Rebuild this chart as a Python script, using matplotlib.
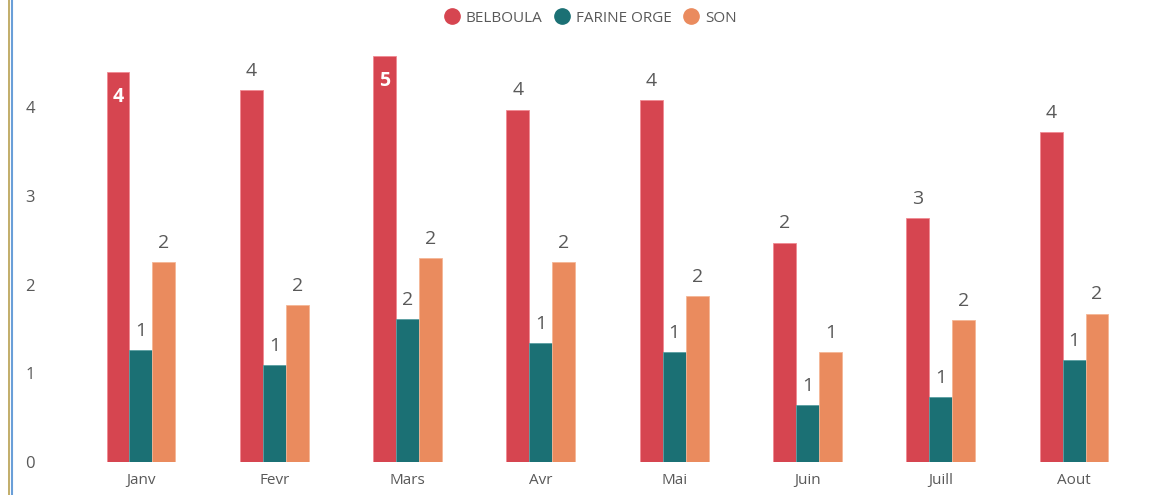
import matplotlib
matplotlib.use("Agg")
import matplotlib.pyplot as plt
import numpy as np
from matplotlib.lines import Line2D

months = ["Janv", "Fevr", "Mars", "Avr", "Mai", "Juin", "Juill", "Aout"]
belboula = [4.40, 4.19, 4.58, 3.97, 4.08, 2.47, 2.75, 3.72]
farine_orge = [1.26, 1.09, 1.61, 1.34, 1.24, 0.64, 0.73, 1.15]
son = [2.25, 1.77, 2.30, 2.25, 1.87, 1.24, 1.60, 1.67]
series_names = ["BELBOULA", "FARINE ORGE", "SON"]
yticks = [0, 1, 2, 3, 4]
inside_labels = {("BELBOULA", "Janv"), ("BELBOULA", "Mars")}

colors = ["#D64550", "#1B7074", "#EA8B5E"]
edge = ["#F08A92", "#5A9EA2", "#F4B696"]
grey = "#595959"
plt.rcParams['font.family'] = ['Open Sans', 'DejaVu Sans']

fig = plt.figure(figsize=(11.73, 4.95), dpi=100)
ax = fig.add_axes([40/1173, 33/495, 1110/1173, 422/495])

x = np.arange(len(months))
w = 0.1725
data = [belboula, farine_orge, son]
for i, (name, vals) in enumerate(zip(series_names, data)):
    xs = x + (i - 1) * w
    ax.bar(xs, vals, width=w, color=colors[i], edgecolor=edge[i], linewidth=0.6)
    for xi, v, m in zip(xs, vals, months):
        lab = str(int(round(v)))
        if (name, m) in inside_labels:
            ax.annotate(lab, (xi, v), xytext=(0, -11), textcoords="offset points",
                        ha="center", va="top", color="white", fontsize=14,
                        fontweight="bold")
        else:
            ax.annotate(lab, (xi, v), xytext=(0, 7.5), textcoords="offset points",
                        ha="center", va="bottom", color=grey, fontsize=14)

ax.set_xlim(-(141 - 40) / 133.3, 7 + (1150 - 1074) / 133.3)
ax.set_ylim(0, 422 / 88.7)
ax.set_xticks(x)
ax.set_xticklabels(months, color=grey, fontsize=11)
ax.set_yticks(yticks)
ax.set_yticklabels([str(t) for t in yticks], color=grey, fontsize=12)
ax.tick_params(axis="both", length=0)
ax.tick_params(axis="x", pad=8)
for s in ax.spines.values():
    s.set_visible(False)
for lab in ax.get_yticklabels():
    lab.set_horizontalalignment("center")
ax.yaxis.set_tick_params(pad=7)

handles = [Line2D([0], [0], marker="o", linestyle="", markersize=11,
                  markerfacecolor=c, markeredgecolor=c) for c in colors]
fig.legend(handles, series_names, loc="center", bbox_to_anchor=(0.5, 1 - 18/495),
           ncol=3, frameon=False, fontsize=11, handletextpad=-0.1,
           columnspacing=0.3, labelcolor=grey)

# left window border
fig.add_artist(Line2D([9/1173, 9/1173], [0, 1], color="#B8A050", linewidth=1.2))
fig.add_artist(Line2D([11.5/1173, 11.5/1173], [0, 1], color="#6A9FD8", linewidth=1.5))

fig.savefig("out.png", dpi=100)
